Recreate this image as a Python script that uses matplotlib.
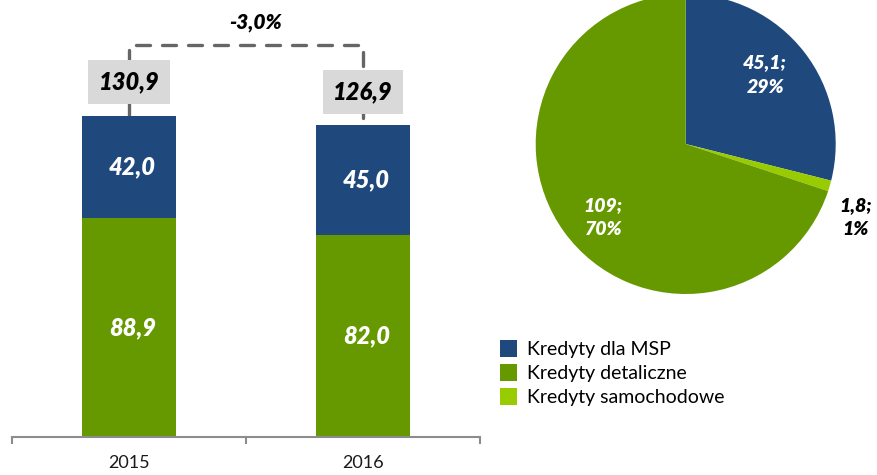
import matplotlib.pyplot as plt
import matplotlib as mpl

mpl.rcParams['font.family'] = ['Lato', 'DejaVu Sans']

# Data
years = ['2015', '2016']
detal = [88.9, 82.0]
msp = [42.0, 45.0]
totals = [130.9, 126.9]
detal_lbl = ['88,9', '82,0']
msp_lbl = ['42,0', '45,0']
total_lbl = ['130,9', '126,9']
change_lbl = '-3,0%'

pie_names = ['Kredyty dla MSP', 'Kredyty samochodowe', 'Kredyty detaliczne']
pie_vals = [45.1, 1.8, 109.0]
pie_lbl = ['45,1;\n29%', '1,8;\n1%', '109;\n70%']

blue = '#1f497d'
green = '#669900'
lgreen = '#99cc00'

fig = plt.figure(figsize=(8.77, 4.75), dpi=100)

# --- stacked bars ---
ax = fig.add_axes([12 / 877, 1 - 436.5 / 475, 468 / 877, 436.5 / 475])
x = range(len(years))
ax.bar(x, detal, width=0.4, color=green, zorder=2)
ax.bar(x, msp, bottom=detal, width=0.4, color=blue, zorder=2)
ax.set_xlim(-0.5, 1.5)
ax.set_ylim(0, 178)

for s in ['top', 'right', 'left']:
    ax.spines[s].set_visible(False)
ax.spines['bottom'].set_color('#8c8c8c')
ax.spines['bottom'].set_linewidth(1.5)
ax.set_yticks([])
ax.set_xticks([-0.5, 0.5, 1.5])
ax.set_xticklabels([])
ax.tick_params(axis='x', length=5, width=1.5, color='#8c8c8c', direction='out')
for i, y in enumerate(years):
    ax.text(i, -10.8, y, ha='center', va='center', fontsize=13, color='#1a1a1a')

lbl_font = dict(fontsize=17, fontweight='heavy', style='italic')
for i in x:
    ax.text(i + 0.015, detal[i] / 2, detal_lbl[i], ha='center', va='center',
            color='white', zorder=3, **lbl_font)
    ax.text(i + 0.015, detal[i] + msp[i] / 2, msp_lbl[i], ha='center', va='center',
            color='white', zorder=3, **lbl_font)

# dashed connector
top_y = 159.5
ax.plot([0, 0, 1, 1], [totals[0], top_y, top_y, totals[1]], color='#666666',
        lw=2.4, linestyle=(0, (4.2, 3.6)), dash_capstyle='round', zorder=1)
for i in x:
    ax.text(i, totals[i] + 13.6, total_lbl[i], ha='center', va='center',
            color='black', zorder=4,
            bbox=dict(facecolor='#d9d9d9', edgecolor='none', pad=7.5), **lbl_font)
ax.text(0.54, 169, change_lbl, ha='center', va='center', color='black',
        fontsize=15, fontweight='heavy', style='italic')

# --- pie ---
pax = fig.add_axes([535.7 / 877, 1 - 294 / 475, 300 / 877, 300 / 475])
wedges, _ = pax.pie(pie_vals, colors=[blue, lgreen, green], startangle=90,
                    counterclock=False, radius=1)
pax.set_xlim(-1, 1)
pax.set_ylim(-1, 1)
pax.set_aspect('equal')
pax.axis('off')
pie_font = dict(fontsize=14, fontweight='heavy', style='italic', ha='center',
                va='center', linespacing=1.55)
pax.text(0.53, 0.46, pie_lbl[0], color='white', **pie_font)
pax.text(1.13, -0.49, pie_lbl[1], color='black', **pie_font)
pax.text(-0.55, -0.49, pie_lbl[2], color='white', **pie_font)

# legend
order = [0, 2, 1]
fig.legend([wedges[k] for k in order], [pie_names[k] for k in order],
           loc='upper left', bbox_to_anchor=(500 / 877, 1 - 340 / 475),
           frameon=False, fontsize=14, handlelength=0.85, handleheight=0.95,
           handletextpad=0.55, labelspacing=0.3, borderpad=0, borderaxespad=0)

fig.savefig('out.png', dpi=100)
